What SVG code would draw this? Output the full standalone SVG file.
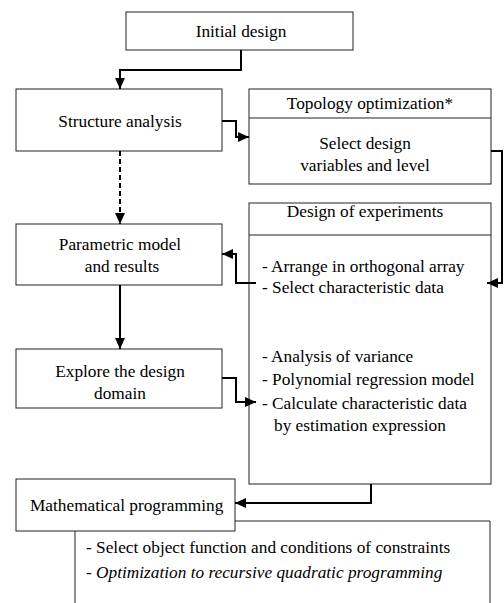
<svg xmlns="http://www.w3.org/2000/svg" width="504" height="603" viewBox="0 0 504 603">
<defs>
<style>
.box{fill:#fff;stroke:#222;stroke-width:1}
.ln{fill:none;stroke:#222;stroke-width:1}
.t{font-family:"Liberation Serif","Times New Roman",serif;font-size:17.3px;fill:#000}
.c{text-anchor:middle}
.con{fill:none;stroke:#000;stroke-width:2}
.dash{stroke-dasharray:5,3}
</style>
<marker id="ah" markerUnits="userSpaceOnUse" markerWidth="12" markerHeight="10" refX="11" refY="5" orient="auto">
<path d="M0,0 L11,5 L0,10 Z" fill="#000"/>
</marker>
</defs>
<rect width="504" height="603" fill="#fff"/>
<g id="initial-design">
<rect class="box" x="126" y="12" width="227" height="38"/>
<text class="t c" x="241" y="37">Initial design</text>
</g>
<g id="structure-analysis">
<rect class="box" x="16" y="89" width="206" height="62"/>
<text class="t c" x="120" y="127">Structure analysis</text>
</g>
<g id="topology-optimization">
<rect class="box" x="249" y="89" width="242" height="95"/>
<line class="ln" x1="249" y1="118" x2="491" y2="118"/>
<text class="t c" x="370" y="109">Topology optimization*</text>
<text class="t c" x="365" y="149">Select design</text>
<text class="t c" x="365" y="171">variables and level</text>
</g>
<g id="parametric-model">
<rect class="box" x="16" y="224" width="206" height="61"/>
<text class="t c" x="120" y="250">Parametric model</text>
<text class="t c" x="122" y="272">and results</text>
</g>
<g id="design-of-experiments">
<rect class="box" x="249" y="203" width="242" height="281"/>
<line class="ln" x1="249" y1="235" x2="491" y2="235"/>
<text class="t c" x="365" y="217">Design of experiments</text>
<text class="t" x="262" y="272">- Arrange in orthogonal array</text>
<text class="t" x="262" y="293">- Select characteristic data</text>
<text class="t" x="262" y="362">- Analysis of variance</text>
<text class="t" x="262" y="385">- Polynomial regression model</text>
<text class="t" x="262" y="409">- Calculate characteristic data</text>
<text class="t" x="274" y="431">by estimation expression</text>
</g>
<g id="explore-design-domain">
<rect class="box" x="16" y="349" width="206" height="59"/>
<text class="t c" x="120" y="377">Explore the design</text>
<text class="t c" x="120" y="399">domain</text>
</g>
<g id="mathematical-programming">
<rect class="box" x="16" y="479" width="219" height="52"/>
<text class="t" x="30" y="511">Mathematical programming</text>
</g>
<g id="math-details">
<path class="ln" d="M235,521 H490 V603"/>
<path class="ln" d="M75,531 V603"/>
<text class="t" x="86" y="553">- Select object function and conditions of constraints</text>
<text class="t" x="86" y="578" font-style="italic">- Optimization to recursive quadratic programming</text>
</g>
<g id="connectors">
<path class="con" d="M241,50 V70 H120 V89" marker-end="url(#ah)"/>
<path class="con" d="M222,121 H236 V137 H249" marker-end="url(#ah)"/>
<path class="con dash" d="M120,151 V224" marker-end="url(#ah)"/>
<path class="con" d="M491,151 H502 V283 H487" marker-end="url(#ah)"/>
<path class="con" d="M256,283 H236 V254 H222" marker-end="url(#ah)"/>
<path class="con" d="M120,285 V349" marker-end="url(#ah)"/>
<path class="con" d="M222,378 H236 V402 H256" marker-end="url(#ah)"/>
<path class="con" d="M371,484 V503 H235" marker-end="url(#ah)"/>
</g>
</svg>
